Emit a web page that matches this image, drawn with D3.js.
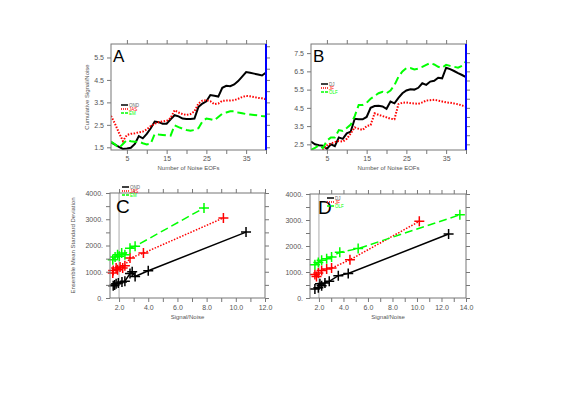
<!DOCTYPE html>
<html><head><meta charset="utf-8">
<script src="https://cdn.jsdelivr.net/npm/d3@7"></script>
<style>body{margin:0;background:#fff}svg{display:block}text{font-family:"Liberation Sans",Arial,sans-serif}</style>
</head><body>
<svg id="c" width="561" height="397"></svg>
<script>
// ---------- DATA ----------
const eofs = d3.range(1, 41);
const aBlack = [1.72,1.62,1.52,1.43,1.45,1.48,1.65,2.0,1.9,2.1,2.35,2.65,2.62,2.55,2.55,2.75,2.93,2.88,2.78,2.76,2.76,2.78,3.3,3.45,3.55,3.83,3.8,3.76,4.15,4.24,4.22,4.3,4.45,4.65,4.85,4.82,4.78,4.74,4.7,4.83];
const aRed   = [2.9,2.55,2.15,1.78,2.05,2.1,2.12,2.17,2.2,2.3,2.45,2.55,2.62,2.65,2.68,2.8,3.15,3.05,2.98,2.94,2.98,3.1,3.45,3.58,3.6,3.55,3.42,3.45,3.57,3.58,3.58,3.6,3.66,3.74,3.79,3.77,3.74,3.7,3.68,3.64];
const aGreen = [1.75,1.63,1.47,1.65,1.83,1.77,1.75,1.75,1.68,1.63,1.66,2.1,2.07,2.05,2.03,2.02,2.48,2.4,2.33,2.27,2.24,2.27,2.35,2.65,2.78,2.75,2.7,2.85,3.0,3.05,3.1,3.1,3.05,3.02,2.98,2.96,2.94,2.92,2.89,2.87];
const bBlack = [2.65,2.5,2.45,2.42,2.25,2.5,2.4,2.88,2.8,3.1,3.2,3.9,3.88,3.87,4.0,4.5,4.6,4.62,4.58,4.45,4.85,4.75,5.05,5.3,5.45,5.52,5.5,5.6,5.85,5.76,5.94,5.98,6.15,6.12,6.7,6.62,6.52,6.4,6.3,6.18];
const bRed   = [2.1,2.05,2.1,2.2,2.45,2.55,2.62,2.68,2.65,2.8,3.1,3.43,3.35,3.29,3.5,3.56,4.2,4.12,4.05,3.98,3.9,3.88,4.7,4.78,4.8,4.76,4.74,4.72,4.8,4.9,4.92,4.94,4.9,4.85,4.8,4.78,4.74,4.7,4.63,4.57];
const bGreen = [2.2,2.3,2.45,2.3,2.7,2.88,2.88,3.28,3.23,3.4,3.58,4.05,4.66,4.66,4.78,5.0,5.15,5.3,5.38,5.3,5.45,5.75,6.2,6.5,6.68,6.68,6.6,6.65,6.75,6.86,6.95,6.88,6.75,6.7,6.86,6.8,6.75,6.7,6.8,7.04];

const cBlackX = [1.6,1.7,1.8,1.95,2.2,2.4,2.75,2.9,3.1,4.0,10.7];
const cBlackY = [470,500,540,570,610,640,930,1000,820,1040,2510];
const cRedX = [1.57,1.6,1.8,1.9,2.07,2.25,2.4,2.75,3.67,9.15];
const cRedY = [950,1050,1140,1080,1180,1140,1230,1520,1710,3050];
const cGreenX = [1.57,1.73,1.9,2.02,2.18,2.4,2.75,3.1,7.82];
const cGreenY = [1460,1560,1650,1590,1710,1650,1900,1970,3430];

const dBlackX = [1.67,1.95,2.08,2.22,2.49,2.84,3.58,4.39,12.58];
const dBlackY = [350,390,550,470,580,640,860,940,2460];
const dRedX = [1.67,1.8,1.95,2.22,2.63,3.03,4.53,10.19];
const dRedY = [900,830,960,1060,1120,1150,1470,2950];
const dGreenX = [1.67,1.95,2.22,2.63,3.03,3.7,5.2,13.5];
const dGreenY = [1280,1370,1450,1510,1580,1760,1900,3200];

const legendAC = ["OND","JAS","EM"];
const legendBD = ["DJ","JF","OLF"];
const aTicks = [1.5,2.5,3.5,4.5,5.5];
const bTicks = [2.5,3.5,4.5,5.5,6.5,7.5];
const xEofTicks = [5,10,15,20,25,30,35,40];

// ---------- STYLES ----------
const cols = ["#000000","#ff0000","#00ff00"];
const dashes = [null,"1.5,1.5","8,4"];
const gray = "#777";
const svg = d3.select("#c");

function frame(g, f){
  g.append("rect").attr("x",f.x0).attr("y",f.y0).attr("width",f.x1-f.x0).attr("height",f.y1-f.y0)
   .attr("fill","none").attr("stroke",gray).attr("stroke-width",1);
}
function styleAxis(sel){
  sel.select(".domain").remove();
  sel.selectAll("line").attr("stroke",gray);
  sel.selectAll("text").attr("fill","#555").style("font-size","7px");
}

function linePanel(id, f, xd, yd, series, yTicks, letter, legend, legPos, showYTitle){
  const g = svg.append("g");
  const x = d3.scaleLinear().domain(xd).range([f.x0,f.x1]);
  const y = d3.scaleLinear().domain(yd).range([f.y1,f.y0]);
  const clip = g.append("clipPath").attr("id","clip"+id);
  clip.append("rect").attr("x",f.x0).attr("y",f.y0).attr("width",f.x1-f.x0).attr("height",f.y1-f.y0);
  const line = d3.line().x((d,i)=>x(eofs[i])).y(d=>y(d));
  series.forEach((s,k)=>{
    g.append("path").attr("d",line(s)).attr("clip-path","url(#clip"+id+")")
     .attr("fill","none").attr("stroke",cols[k]).attr("stroke-width",2)
     .attr("stroke-dasharray",dashes[k]);
  });
  frame(g,f);
  g.append("g").attr("transform",`translate(0,${f.y1})`)
    .call(d3.axisBottom(x).tickValues(xEofTicks).tickSize(4).tickPadding(2).tickFormat(d=>d%10===5?d:""))
    .call(styleAxis);
  g.append("g").attr("transform",`translate(0,${f.y0})`)
    .call(d3.axisTop(x).tickValues(xEofTicks).tickSize(4).tickFormat("")).call(styleAxis);
  g.append("g").attr("transform",`translate(${f.x0},0)`)
    .call(d3.axisLeft(y).tickValues(yTicks).tickSize(4).tickPadding(3).tickFormat(d3.format(".1f"))).call(styleAxis);
  const rt = d3.range(Math.ceil(yd[0]*2)/2, yd[1], 0.5);
  g.append("g").attr("transform",`translate(${f.x1},0)`)
    .call(d3.axisRight(y).tickValues(rt).tickSize(4).tickFormat("")).call(styleAxis);
  g.append("line").attr("x1",f.x1).attr("x2",f.x1).attr("y1",f.y0).attr("y2",f.y1)
   .attr("stroke","#0000ff").attr("stroke-width",2);
  g.append("text").attr("x",f.x0+2).attr("y",f.y0+18).text(letter).style("font-size","17px").attr("fill","#000");
  g.append("text").attr("x",(f.x0+f.x1)/2).attr("y",f.y1+20).attr("text-anchor","middle")
   .text("Number of Noise EOFs").style("font-size","6px").attr("fill","#555");
  if(showYTitle){
    g.append("text").attr("transform",`translate(${f.x0-22},${(f.y0+f.y1)/2}) rotate(-90)`)
     .attr("text-anchor","middle").text("Cumulative Signal/Noise").style("font-size","6px").attr("fill","#555");
  }
  drawLegend(g, legend, legPos[0], legPos[1]);
}

function drawLegend(g, labels, lx, ly){
  labels.forEach((t,k)=>{
    const yy = ly + k*4;
    g.append("line").attr("x1",lx).attr("x2",lx+7).attr("y1",yy).attr("y2",yy)
     .attr("stroke",cols[k]).attr("stroke-width",1.5).attr("stroke-dasharray",k===1?"1,1":(k===2?"3,1":null));
    g.append("text").attr("x",lx+8).attr("y",yy+1.5).text(t).style("font-size","4.5px")
     .attr("fill",k===0?"#666":cols[k]);
  });
}

function scatterPanel(id, f, xd, xs, ys, letter, legend, legPos, showYTitle){
  const g = svg.append("g");
  const x = d3.scaleLinear().domain(xd).range([f.x0,f.x1]);
  const y = d3.scaleLinear().domain([0,4000]).range([f.y1,f.y0]);
  g.append("line").attr("x1",x(2)).attr("x2",x(2)).attr("y1",f.y0).attr("y2",f.y1).attr("stroke","#aaa").attr("stroke-width",1);
  xs.forEach((xa,k)=>{
    const pts = xa.map((v,i)=>[v,ys[k][i]]).sort((a,b)=>a[0]-b[0]);
    g.append("path").attr("d",d3.line().x(d=>x(d[0])).y(d=>y(d[1]))(pts))
     .attr("fill","none").attr("stroke",cols[k]).attr("stroke-width",1.5).attr("stroke-dasharray",dashes[k]);
    g.selectAll(null).data(pts).enter().append("path")
     .attr("transform",d=>`translate(${x(d[0])},${y(d[1])})`)
     .attr("d","M-5,0H5M0,-5V5").attr("stroke",cols[k]).attr("stroke-width",1.5);
  });
  frame(g,f);
  const minor = d3.range(Math.ceil(xd[0]), xd[1]+0.01, 1);
  g.append("g").attr("transform",`translate(0,${f.y1})`)
    .call(d3.axisBottom(x).tickValues(minor).tickSize(4).tickPadding(3).tickFormat(d=>d%2===0?d3.format(".1f")(d):""))
    .call(styleAxis);
  g.append("g").attr("transform",`translate(0,${f.y0})`)
    .call(d3.axisTop(x).tickValues(minor).tickSize(4).tickFormat("")).call(styleAxis);
  g.append("g").attr("transform",`translate(${f.x0},0)`)
    .call(d3.axisLeft(y).tickValues(d3.range(0,4001,500)).tickSize(4).tickPadding(3).tickFormat(d=>d%1000===0?d+".":""))
    .call(styleAxis);
  g.append("g").attr("transform",`translate(${f.x1},0)`)
    .call(d3.axisRight(y).tickValues(d3.range(0,4001,500)).tickSize(4).tickFormat("")).call(styleAxis);
  g.append("text").attr("x",f.x0+(id==="C"?6:8)).attr("y",f.y0+20).text(letter).style("font-size","19px").attr("fill","#000");
  g.append("text").attr("x",(f.x0+f.x1)/2).attr("y",f.y1+21).attr("text-anchor","middle")
   .text("Signal/Noise").style("font-size","6px").attr("fill","#555");
  if(showYTitle){
    g.append("text").attr("transform",`translate(${f.x0-35},${(f.y0+f.y1)/2}) rotate(-90)`)
     .attr("text-anchor","middle").text("Ensemble Mean Standard Deviation").style("font-size","6px").attr("fill","#555");
  }
  drawLegend(g, legend, legPos[0], legPos[1]);
}

linePanel("A",{x0:111,x1:266,y0:44,y1:150},[1,40],[1.38,6.1],[aBlack,aRed,aGreen],aTicks,"A",legendAC,[121,105],true);
linePanel("B",{x0:311,x1:466,y0:44,y1:150},[1,40],[2.19,8.0],[bBlack,bRed,bGreen],bTicks,"B",legendBD,[321,84],false);
scatterPanel("C",{x0:110,x1:265,y0:193,y1:298},[1.38,12],[cBlackX,cRedX,cGreenX],[cBlackY,cRedY,cGreenY],"C",legendAC,[122,187],true);
scatterPanel("D",{x0:310,x1:466,y0:194,y1:298},[1.27,14],[dBlackX,dRedX,dGreenX],[dBlackY,dRedY,dGreenY],"D",legendBD,[327,198],false);
</script>
</body></html>
